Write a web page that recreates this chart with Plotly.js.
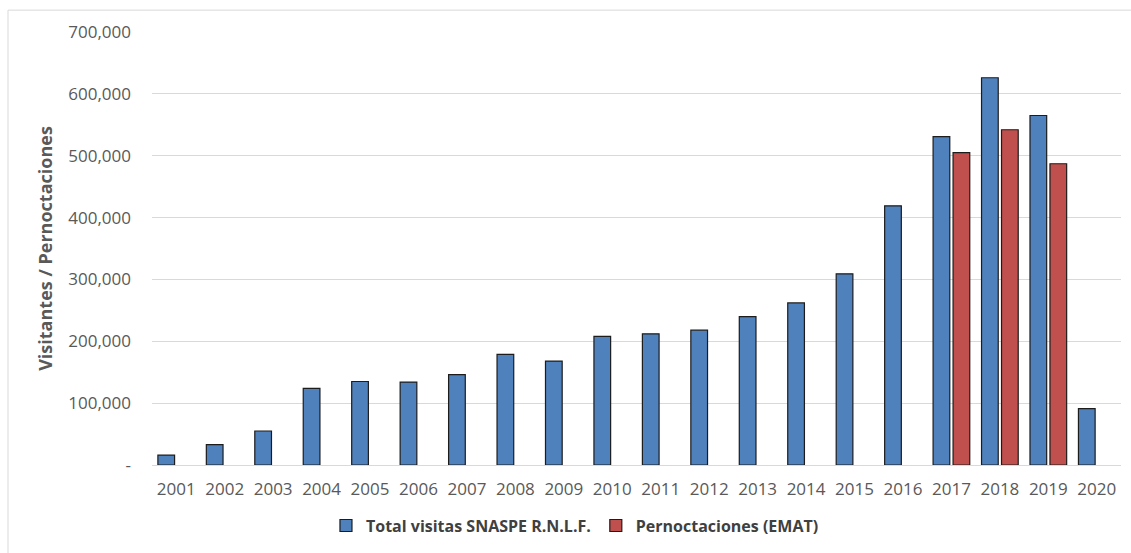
<!DOCTYPE html>
<html>
<head>
<meta charset="utf-8">
<script src="https://cdn.plot.ly/plotly-3.0.1.min.js"></script>
<style>
  html, body { margin: 0; padding: 0; background: #ffffff; }
  #chart { width: 1131px; height: 553px; }
</style>
</head>
<body>
<div id="chart"></div>
<script>
// Years on the category axis
const years = ['2001','2002','2003','2004','2005','2006','2007','2008','2009','2010',
               '2011','2012','2013','2014','2015','2016','2017','2018','2019','2020'];

// Total visits to the protected area (SNASPE R.N.L.F.)
const totalVisitas = [16000, 33000, 55000, 124000, 135000, 134000, 146000, 179000, 168000, 208000,
                      212000, 218000, 240000, 262000, 309000, 419000, 531000, 626000, 565000, 91000];

// Overnight stays (EMAT), only reported for 2017-2019
const pernoctaciones = [null, null, null, null, null, null, null, null, null, null,
                        null, null, null, null, null, null, 505000, 542000, 487000, null];

// Y axis ticks, zero shown as a dash
const yTickVals = [0, 100000, 200000, 300000, 400000, 500000, 600000, 700000];
const yTickText = ['-', '100,000', '200,000', '300,000', '400,000', '500,000', '600,000', '700,000'];

const FONT = 'Open Sans, Lato, sans-serif';
const outline = { color: '#1c1c1c', width: 1.2 };

const traces = [
  {
    type: 'bar',
    name: 'Total visitas SNASPE R.N.L.F.',
    x: years,
    y: totalVisitas,
    marker: { color: '#4f81bd', line: outline },
    hoverinfo: 'x+y'
  },
  {
    type: 'bar',
    name: 'Pernoctaciones (EMAT)',
    x: years,
    y: pernoctaciones,
    marker: { color: '#c0504d', line: outline },
    hoverinfo: 'x+y'
  }
];

const layout = {
  width: 1131,
  height: 553,
  paper_bgcolor: '#ffffff',
  plot_bgcolor: '#ffffff',
  margin: { l: 152, r: 10, t: 32, b: 83 },
  barmode: 'group',
  bargap: 0.175,
  bargroupgap: 0.165,
  font: { family: FONT, color: '#595959', size: 17 },
  xaxis: {
    type: 'category',
    tickfont: { family: FONT, size: 17, color: '#595959' },
    showgrid: false,
    zeroline: false,
    showline: false,
    ticks: '',
    ticklabelstandoff: 12,
    fixedrange: true
  },
  yaxis: {
    range: [0, 700000],
    tickvals: yTickVals,
    ticktext: yTickText,
    tickfont: { family: FONT, size: 17, color: '#595959' },
    showgrid: true,
    gridcolor: '#d9d9d9',
    gridwidth: 1,
    zeroline: true,
    zerolinecolor: '#d9d9d9',
    zerolinewidth: 1,
    showline: false,
    ticks: '',
    ticklabelstandoff: 20,
    title: {
      text: 'Visitantes / Pernoctaciones',
      font: { family: FONT, size: 18, color: '#595959', weight: 'bold' },
      standoff: 10
    },
    fixedrange: true
  },
  legend: {
    orientation: 'h',
    x: 0.4365,
    xanchor: 'center',
    y: -0.14,
    yanchor: 'middle',
    font: { family: FONT, size: 16, color: '#404040', weight: 'bold' },
    bgcolor: 'rgba(0,0,0,0)',
    itemclick: false,
    itemdoubleclick: false
  },
  shapes: [
    {
      // light frame around the chart area
      type: 'rect',
      xref: 'paper', yref: 'paper',
      x0: (8 - 152) / 969, x1: 1.05,
      y0: -0.3, y1: (468 - 10) / 436,
      line: { color: '#d9d9d9', width: 1 },
      fillcolor: 'rgba(0,0,0,0)',
      layer: 'below'
    }
  ],
  showlegend: true
};

Plotly.newPlot('chart', traces, layout, { displayModeBar: false, staticPlot: false });
</script>
</body>
</html>
